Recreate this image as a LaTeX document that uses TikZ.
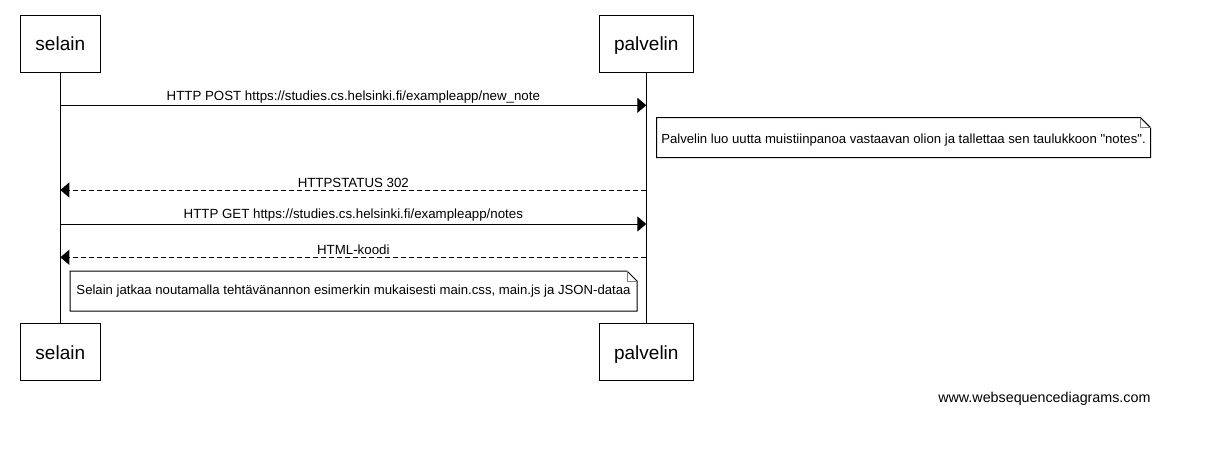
\documentclass[tikz,border=0pt]{standalone}
\usepackage{fontspec}
\setmainfont{Liberation Sans}[Ligatures=TeXOff]
\usetikzlibrary{arrows.meta}
\begin{document}
\begin{tikzpicture}[x=1pt,y=-1pt,line width=1pt,
	actor/.style={draw,minimum height=57pt,inner sep=0pt,text height=18.6pt,text depth=4pt,font=\fontsize{19}{22}\selectfont},
	msg/.style={-{Triangle[length=9pt,width=15pt]}},
	reply/.style={msg,dash pattern=on 5pt off 3pt},
	lbl/.style={above,inner sep=2pt,font=\fontsize{13.3}{15}\selectfont},
	notetext/.style={minimum height=39pt,inner sep=0pt,text depth=3pt,font=\fontsize{13.15}{15}\selectfont}]
	\useasboundingbox (0,0) rectangle (1223,460);
	% osapuolet
	\node[actor,minimum width=80pt] (s1) at (60.3,43.7) {selain};
	\node[actor,minimum width=94pt] (p1) at (646.3,43.7) {palvelin};
	\node[actor,minimum width=80pt] (s2) at (60.3,352) {selain};
	\node[actor,minimum width=94pt] (p2) at (646.3,352) {palvelin};
	\draw (s1) -- (s2);
	\draw (p1) -- (p2);
	% viestit
	\coordinate (sa) at (60.3,105.3); \coordinate (pa) at (646.3,105.3);
	\coordinate (sb) at (60.3,190); \coordinate (pb) at (646.3,190);
	\coordinate (sc) at (60.3,224); \coordinate (pc) at (646.3,224);
	\coordinate (sd) at (60.3,257.3); \coordinate (pd) at (646.3,257.3);
	\draw[msg] (sa) -- (pa) node[lbl,midway]{HTTP POST https://studies.cs.helsinki.fi/exampleapp/new\_note};
	\draw[reply] (pb) -- (sb) node[lbl,midway]{HTTPSTATUS 302};
	\draw[msg] (sc) -- (pc) node[lbl,midway]{HTTP GET https://studies.cs.helsinki.fi/exampleapp/notes};
	\draw[reply] (pd) -- (sd) node[lbl,midway]{HTML-koodi};
	% muistiinpanot
	\node[notetext,text height=15pt,minimum width=493pt] (n1) at (903.5,137.7) {Palvelin luo uutta muistiinpanoa vastaavan olion ja tallettaa sen taulukkoon "notes".};
	\draw (n1.south west) -- (n1.north west) -- ([xshift=-10pt]n1.north east) -- ([yshift=-10pt]n1.north east) -- (n1.south east) -- cycle;
	\draw[gray] ([xshift=-10pt]n1.north east) |- ([yshift=-10pt]n1.north east);
	\node[notetext,text height=10.5pt,minimum width=566pt] (n2) at (353.5,291) {Selain jatkaa noutamalla tehtävänannon esimerkin mukaisesti main.css, main.js ja JSON-dataa};
	\draw (n2.south west) -- (n2.north west) -- ([xshift=-10pt]n2.north east) -- ([yshift=-10pt]n2.north east) -- (n2.south east) -- cycle;
	\draw[gray] ([xshift=-10pt]n2.north east) |- ([yshift=-10pt]n2.north east);
	\node[anchor=east,inner sep=0pt,font=\fontsize{14.3}{16}\selectfont] (www) at (1151,399) {www.websequencediagrams.com};
\end{tikzpicture}
\end{document}
